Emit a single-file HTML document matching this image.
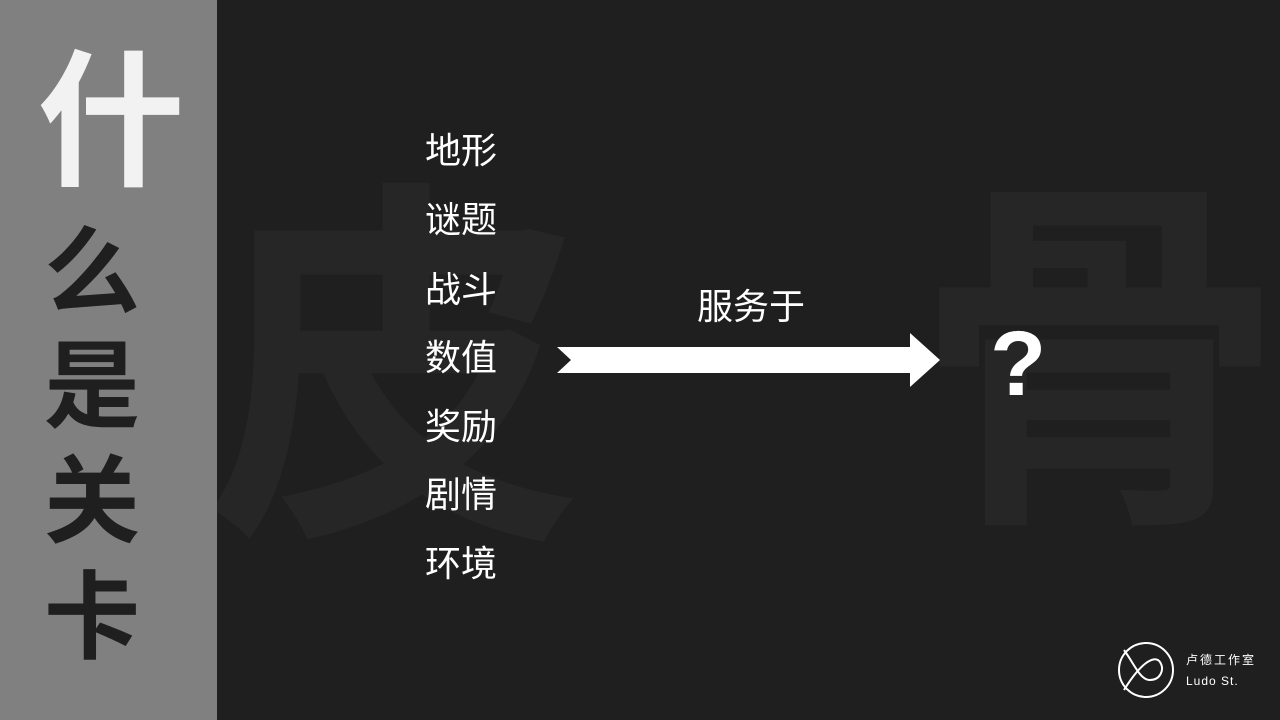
<!DOCTYPE html>
<html><head><meta charset="utf-8"><style>
body{margin:0;width:1280px;height:720px;overflow:hidden;background:#1f1f1f;position:relative;font-family:"Liberation Sans","Noto Sans CJK SC",sans-serif}
.a{position:absolute;white-space:nowrap;line-height:1}
#left{position:absolute;left:0;top:0;width:217px;height:720px;background:#808080}
.t{font-weight:bold;color:#1f1f1f;font-size:96px;left:44px}
.l{color:#fff;font-size:36px;left:425px}
</style></head><body>
<div class="a" style="left:205px;top:185px;font-size:380px;color:#262626;font-weight:bold">皮</div>
<div class="a" style="left:915px;top:180px;font-size:370px;color:#262626;font-weight:bold">骨</div>
<div id="left"></div>
<div class="a" style="left:37px;top:50px;font-size:148px;color:#f2f2f2;font-weight:bold">什</div>
<div class="a t" style="top:226px">么</div>
<div class="a t" style="top:340px">是</div>
<div class="a t" style="top:455px">关</div>
<div class="a t" style="top:571px">卡</div>
<div class="a l" style="top:133px">地形</div>
<div class="a l" style="top:202px">谜题</div>
<div class="a l" style="top:272px">战斗</div>
<div class="a l" style="top:340px">数值</div>
<div class="a l" style="top:409px">奖励</div>
<div class="a l" style="top:477px">剧情</div>
<div class="a l" style="top:546px">环境</div>
<div class="a" style="left:697px;top:289px;font-size:36px;color:#fff">服务于</div>
<svg class="a" style="left:0;top:0" width="1280" height="720">
<polygon points="557,347 910,347 910,333 940,360 910,387 910,373 557,373 571,360" fill="#fff"/>
<circle cx="1146" cy="670" r="27" fill="none" stroke="#fff" stroke-width="2"/>
<path d="M1124,650 C1135,665 1140,680 1150,680 C1160,680 1165,670 1160,662 C1154,654 1140,664 1124,690" fill="none" stroke="#fff" stroke-width="2"/>
</svg>
<div class="a" style="left:990px;top:318px;font-size:92px;color:#fff;font-weight:bold">?</div>
<div class="a" style="left:1186px;top:654px;font-size:12px;color:#fff;letter-spacing:2px">卢德工作室</div>
<div class="a" style="left:1186px;top:675px;font-size:12px;color:#fff;letter-spacing:1px">Ludo St.</div>
</body></html>
